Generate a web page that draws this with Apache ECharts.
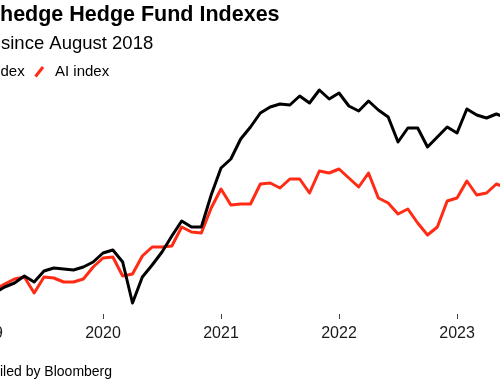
<!DOCTYPE html>
<html>
<head>
<meta charset="utf-8">
<script src="https://cdn.jsdelivr.net/npm/echarts@6/dist/echarts.min.js"></script>
<style>
html,body{margin:0;padding:0;background:#fff;}
#chart{width:500px;height:381px;}
</style>
</head>
<body>
<div id="chart"></div>
<script>
var months = [
 '2019-01','2019-02','2019-03','2019-04','2019-05','2019-06','2019-07','2019-08','2019-09','2019-10','2019-11','2019-12',
 '2020-01','2020-02','2020-03','2020-04','2020-05','2020-06','2020-07','2020-08','2020-09','2020-10','2020-11','2020-12',
 '2021-01','2021-02','2021-03','2021-04','2021-05','2021-06','2021-07','2021-08','2021-09','2021-10','2021-11','2021-12',
 '2022-01','2022-02','2022-03','2022-04','2022-05','2022-06','2022-07','2022-08','2022-09','2022-10','2022-11','2022-12',
 '2023-01','2023-02','2023-03','2023-04','2023-05','2023-06'
];
var hedgeIndex = [
 null,107,113,117,124,118,129,132,131,130,133,138,
 147,150,138,97,123,135,148,164,179,173,173,205,
 232,241,261,273,287,293,296,295,304,297,310,301,
 307,294,289,299,290,283,258,272,272,253,263,273,
 267,291,285,282,286,282
];
var aiIndex = [
 null,110,116,121,123,107,123,122,118,118,121,133,
 142,143,124,126,144,153,153,154,173,168,167,192,
 211,195,196,196,216,217,212,221,221,207,229,227,
 231,222,213,227,202,197,186,191,177,165,173,199,
 202,219,205,207,216,212
];
var titleText = 'hedge Hedge Fund Indexes';
var subtitleText = 'since August 2018';
var legendBlackText = 'dex';
var legendRedText = 'AI index';
var footerText = 'iled by Bloomberg';

var RED = '#ff2b15';
var FONT = '"Liberation Sans", Arial, sans-serif';

var chart = echarts.init(document.getElementById('chart'), null, {renderer:'canvas'});
chart.setOption({
  animation: false,
  backgroundColor: '#fff',
  grid: {left: -15, right: -6.2, top: 80, bottom: 67, containLabel: false, outerBoundsMode: 'none'},
  xAxis: {
    type: 'category',
    data: months,
    boundaryGap: false,
    axisLine: {show: false},
    axisTick: {show: true, length: 5, lineStyle: {color: '#444', width: 1},
      interval: function(i, v){ return v.slice(5) === '01'; }},
    axisLabel: {show: true, margin: 12, fontSize: 16, color: '#1a1a1a', fontFamily: FONT,
      interval: function(i, v){ return v.slice(5) === '01'; },
      formatter: function(v){ return v.slice(0,4); }},
    splitLine: {show: false}
  },
  yAxis: {type: 'value', min: 86, max: 320, show: false, splitLine: {show: false}},
  series: [
    {name: 'AI index', type: 'line', data: aiIndex, showSymbol: false, symbol: 'none',
     lineStyle: {color: RED, width: 3, join: 'round', cap: 'round'}, z: 2},
    {name: 'Hedge fund index', type: 'line', data: hedgeIndex, showSymbol: false, symbol: 'none',
     lineStyle: {color: '#000', width: 3, join: 'round', cap: 'round'}, z: 3}
  ],
  graphic: [
    {type: 'text', x: 0, y: 15.5, style: {text: titleText, font: 'bold 21.5px ' + FONT, fill: '#000', textAlign: 'left', textVerticalAlign: 'middle'}},
    {type: 'text', x: 1, y: 44, style: {text: subtitleText, font: '18.5px ' + FONT, fill: '#000', textAlign: 'left', textVerticalAlign: 'middle'}},
    {type: 'text', x: 0.5, y: 72, style: {text: legendBlackText, font: '15px ' + FONT, fill: '#000', textAlign: 'left', textVerticalAlign: 'middle'}},
    {type: 'line', shape: {x1: 35.5, y1: 76.5, x2: 43, y2: 67}, style: {stroke: RED, lineWidth: 3, lineCap: 'butt'}},
    {type: 'text', x: 55, y: 72, style: {text: legendRedText, font: '15px ' + FONT, fill: '#000', textAlign: 'left', textVerticalAlign: 'middle'}},
    {type: 'text', x: 0, y: 372, style: {text: footerText, font: '14px ' + FONT, fill: '#000', textAlign: 'left', textVerticalAlign: 'middle'}}
  ]
});
</script>
</body>
</html>
